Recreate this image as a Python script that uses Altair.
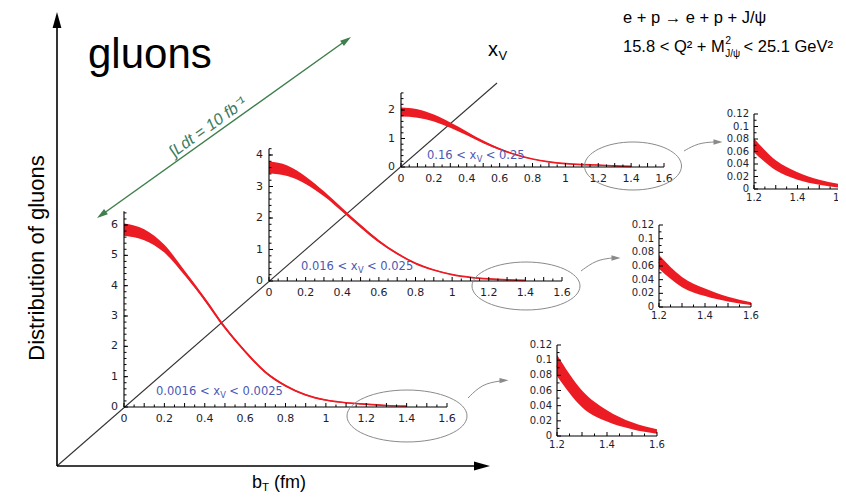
import altair as alt
import pandas as pd

W, H = 830, 485

# ---------------- data ----------------
BT = [0.0, 0.1, 0.2, 0.3, 0.4, 0.5, 0.6, 0.7, 0.8, 0.9, 1.0, 1.1, 1.2, 1.3, 1.4, 1.5, 1.6]

LOW_LO = [5.65, 5.50, 5.09, 4.34, 3.49, 2.57, 1.79, 1.115, 0.67, 0.38, 0.21, 0.125, 0.079, 0.038, 0.019, 0.009, 0.003]
LOW_HI = [6.05, 5.86, 5.35, 4.50, 3.61, 2.67, 1.87, 1.185, 0.73, 0.42, 0.25, 0.155, 0.107, 0.060, 0.034, 0.018, 0.009]
MID_LO = [3.42, 3.33, 3.08, 2.69, 2.20, 1.69, 1.22, 0.84, 0.54, 0.335, 0.195, 0.11, 0.056, 0.029, 0.016, 0.008, 0.003]
MID_HI = [3.79, 3.67, 3.32, 2.85, 2.32, 1.79, 1.30, 0.90, 0.58, 0.365, 0.215, 0.125, 0.076, 0.044, 0.027, 0.015, 0.007]
HIGH_LO = [1.77, 1.73, 1.60, 1.38, 1.11, 0.83, 0.60, 0.41, 0.27, 0.17, 0.11, 0.075, 0.059, 0.030, 0.015, 0.007, 0.002]
HIGH_HI = [2.09, 2.03, 1.84, 1.56, 1.25, 0.93, 0.66, 0.45, 0.29, 0.19, 0.125, 0.09, 0.081, 0.046, 0.027, 0.015, 0.0075]

MAIN_X_LABELS = [0, 0.2, 0.4, 0.6, 0.8, 1.0, 1.2, 1.4, 1.6]
LOW_Y_LABELS = [0, 1, 2, 3, 4, 5, 6]
MID_Y_LABELS = [0, 1, 2, 3, 4]
HIGH_Y_LABELS = [0, 1, 2]
ZOOM_X_LABELS = [1.2, 1.4, 1.6]
ZOOM_Y_LABELS = [0, 0.02, 0.04, 0.06, 0.08, 0.1, 0.12]

RANGE_LABELS = [("0.0016 < x", "V", "< 0.0025"),
                ("0.016 < x", "V", "< 0.025"),
                ("0.16 < x", "V", "< 0.25")]

RED = "#ec1c24"
LABEL_COLOR = "#1e1e30"
BLUE = "#4a58b4"
GRAY = "#8a8a8a"
GREEN = "#3f7f4c"
FONT = "Liberation Sans"
TICKFONT = "DejaVu Sans"

# advance widths (em) for Liberation Sans (Arial metrics)
ADV = {"0": .556, "1": .556, "2": .556, "3": .556, "4": .556, "5": .556, "6": .556,
       "7": .556, "8": .556, "9": .556, ".": .278, " ": .278, "<": .584, "+": .584,
       "x": .5, "V": .667, "Q": .778, "²": .333, "M": .833, "J": .5, "/": .278,
       "ψ": .69, "G": .778, "e": .556, "b": .556, "T": .611}
# advance widths (em) for DejaVu Sans
ADV_DV = {"0": .636, "1": .636, "2": .636, "5": .636, "6": .636, ".": .318, " ": .318,
          "<": .838, "x": .592, "V": .684}


def tw(s, size, adv=ADV):
    return sum(adv.get(ch, .6) for ch in s) * size


def steps(a, b, d):
    n = int(round((b - a) / d))
    return [round(a + i * d, 6) for i in range(n + 1)]


def fmt(v):
    return f"{v:g}"


ONE = pd.DataFrame({"k": [0]})


def panel(lo, hi, xr, yr, xdom, ydom, xlab, ylab, xmaj, xmin_, ymaj, ymin_, fs, bmax, padx, pady):
    rows = [(b, l, h) for b, l, h in zip(BT, lo, hi) if xdom[0] - 1e-9 <= b <= bmax + 1e-9]
    df = pd.DataFrame(rows, columns=["b", "lo", "hi"])
    df["c"] = (df["lo"] + df["hi"]) / 2
    sx = alt.Scale(domain=xdom, range=xr, nice=False, zero=False)
    sy = alt.Scale(domain=ydom, range=yr, nice=False, zero=False)

    def X(f):
        return alt.X(f, scale=sx, axis=None, title=None)

    def Y(f):
        return alt.Y(f, scale=sy, axis=None, title=None)

    def XD(v):
        return alt.XDatum(v, scale=sx, axis=None)

    def YD(v):
        return alt.YDatum(v, scale=sy, axis=None)

    base = alt.Chart(df)
    layers = [
        base.mark_area(color=RED, interpolate="monotone", opacity=1).encode(
            x=X("b:Q"), y=Y("lo:Q"), y2="hi:Q"),
        base.mark_line(color=RED, strokeWidth=1.7, interpolate="monotone").encode(
            x=X("b:Q"), y=Y("c:Q")),
        # axis lines
        alt.Chart(ONE).mark_rule(color="black", strokeWidth=1.1).encode(
            x=XD(xdom[0]), x2=alt.datum(xdom[1]), y=YD(ydom[0])),
        alt.Chart(ONE).mark_rule(color="black", strokeWidth=1.1).encode(
            x=XD(xdom[0]), y=YD(ydom[0]), y2=alt.datum(ydom[1])),
        # tick labels
        alt.Chart(pd.DataFrame({"v": xlab, "s": [fmt(v) for v in xlab]})).mark_text(
            font=TICKFONT, fontSize=fs, color=LABEL_COLOR, baseline="top", dy=padx).encode(
            x=X("v:Q"), y=YD(ydom[0]), text="s:N"),
        alt.Chart(pd.DataFrame({"v": ylab, "s": [fmt(v) for v in ylab]})).mark_text(
            font=TICKFONT, fontSize=fs, color=LABEL_COLOR, align="right", baseline="middle",
            dx=-pady).encode(
            y=Y("v:Q"), x=XD(xdom[0]), text="s:N"),
    ]
    # inward ticks
    for vals, ln in ((xmaj, 4), (xmin_, 2.5)):
        layers.append(alt.Chart(pd.DataFrame({"t": vals})).mark_rule(
            color="black", strokeWidth=1, y2Offset=-ln).encode(
            x=X("t:Q"), y=YD(ydom[0]), y2=alt.datum(ydom[0])))
    for vals, ln in ((ymaj, 4), (ymin_, 2.5)):
        layers.append(alt.Chart(pd.DataFrame({"t": vals})).mark_rule(
            color="black", strokeWidth=1, x2Offset=ln).encode(
            y=Y("t:Q"), x=XD(xdom[0]), x2=alt.datum(xdom[0])))
    return alt.layer(*layers)


def txt(x, y, s, size, color="black", align="left", angle=0, italic=False,
        baseline="middle", font=FONT):
    props = dict(text=s, fontSize=size, color=color, align=align, baseline=baseline,
                 font=font, angle=angle)
    if italic:
        props["fontStyle"] = "italic"
    return alt.Chart(ONE).mark_text(**props).encode(x=alt.value(x), y=alt.value(y))


def seg(x1, y1, x2, y2, color="black", width=1.0):
    return alt.Chart(ONE).mark_rule(color=color, strokeWidth=width).encode(
        x=alt.value(x1), y=alt.value(y1), x2=alt.value(x2), y2=alt.value(y2))


TRI = "M0,-1L0.55,1L-0.55,1Z"
TRI2 = "M0,-1L0.6,1L-0.6,1Z"


def head(x, y, angle, size, color, shape=TRI):
    return alt.Chart(ONE).mark_point(shape=shape, filled=True, size=size, angle=angle,
                                     color=color, opacity=1, strokeWidth=0).encode(
        x=alt.value(x), y=alt.value(y))


def ellipse(cx, cy, rx, ry):
    r = ry / rx
    path = f"M-1,0A1,{r:.3f} 0 1,1 1,0A1,{r:.3f} 0 1,1 -1,0Z"
    return alt.Chart(ONE).mark_point(shape=path, filled=False, size=(2 * rx) ** 2,
                                     color=GRAY, opacity=1, strokeWidth=1).encode(
        x=alt.value(cx), y=alt.value(cy))


def curve(pts, color=GRAY):
    df = pd.DataFrame({"x": [p[0] for p in pts], "y": [p[1] for p in pts], "o": list(range(len(pts)))})
    return alt.Chart(df).mark_line(color=color, strokeWidth=1, interpolate="basis").encode(
        x=alt.X("x:Q", scale=None, axis=None), y=alt.Y("y:Q", scale=None, axis=None), order="o:Q")


def range_label(parts, left, y, f=11.5):
    a, v, c = parts
    xa = left + tw(a, f, ADV_DV)
    return [txt(left, y, a, f, BLUE, font=TICKFONT),
            txt(xa + 0.3, y + 3.5, v, f * 0.72, BLUE, font=TICKFONT),
            txt(xa + 0.684 * f * 0.72 + 0.318 * f, y, c, f, BLUE, font=TICKFONT)]


layers = []
# frame: axes of the 3D sketch
layers.append(seg(49, 458, 489, 75, "#333333", 1.1))
layers.append(seg(49, 458, 49, 14, "black", 1.6))
layers.append(seg(49, 458, 476, 458, "black", 1.6))
layers.append(head(49, 12, 0, 256, "black"))
layers.append(head(474, 458, 90, 256, "black"))
# luminosity arrow
layers.append(seg(92, 208, 340, 31, GREEN, 1.5))
layers.append(head(338.5, 32.2, 54.5, 121, GREEN, TRI2))
layers.append(head(93.5, 206.8, 234.5, 121, GREEN, TRI2))

# panels
maj_main = steps(0, 1.6, 0.1)
min_main = steps(0.05, 1.55, 0.1)
maj_zoom = steps(1.2, 1.6, 0.1)
min_zoom = steps(1.25, 1.55, 0.1)
layers.append(panel(LOW_LO, LOW_HI, [116, 439], [399, 399 - 6.45 * 30.33], [0, 1.6], [0, 6.45],
                    MAIN_X_LABELS, LOW_Y_LABELS, maj_main, min_main,
                    steps(0, 6, 1), steps(0.2, 6.4, 0.2), 11, 1.4, 6, 6))
layers.append(panel(MID_LO, MID_HI, [261, 554], [273, 273 - 4.2 * 31.5], [0, 1.6], [0, 4.2],
                    MAIN_X_LABELS, MID_Y_LABELS, maj_main, min_main,
                    steps(0, 4, 1), steps(0.2, 4.2, 0.2), 11, 1.4, 6, 6))
layers.append(panel(HIGH_LO, HIGH_HI, [393, 656], [159, 159 - 2.6 * 28.5], [0, 1.6], [0, 2.6],
                    MAIN_X_LABELS, HIGH_Y_LABELS, maj_main, min_main,
                    steps(0, 2, 1), steps(0.2, 2.6, 0.2), 11, 1.4, 6, 6))
layers.append(panel(LOW_LO, LOW_HI, [549, 649], [428, 337], [1.2, 1.6], [0, 0.12],
                    ZOOM_X_LABELS, ZOOM_Y_LABELS, maj_zoom, min_zoom,
                    steps(0, 0.12, 0.02), steps(0.01, 0.11, 0.02), 10, 1.6, 4, 5))
layers.append(panel(MID_LO, MID_HI, [651, 743], [299, 217], [1.2, 1.6], [0, 0.12],
                    ZOOM_X_LABELS, ZOOM_Y_LABELS, maj_zoom, min_zoom,
                    steps(0, 0.12, 0.02), steps(0.01, 0.11, 0.02), 10, 1.6, 4, 5))
layers.append(panel(HIGH_LO, HIGH_HI, [746, 833], [181, 106], [1.2, 1.6], [0, 0.12],
                    ZOOM_X_LABELS, ZOOM_Y_LABELS, maj_zoom, min_zoom,
                    steps(0, 0.12, 0.02), steps(0.01, 0.11, 0.02), 10, 1.6, 4, 5))

# ellipses and zoom arrows
layers.append(ellipse(399, 408, 60, 26))
layers.append(ellipse(518, 278, 54, 24))
layers.append(ellipse(625, 158, 48.5, 24))
layers.append(curve([(460, 390), (474, 376), (492, 373)]))
layers.append(curve([(573, 263), (588, 252), (604, 250)]))
layers.append(curve([(676, 143), (690, 135), (706, 134)]))
layers.append(head(496, 372.5, 88, 81, GRAY, TRI2))
layers.append(head(608, 250, 90, 81, GRAY, TRI2))
layers.append(head(710, 134, 90, 81, GRAY, TRI2))

# range labels
layers += range_label(RANGE_LABELS[0], 148, 384)
layers += range_label(RANGE_LABELS[1], 293, 259)
layers += range_label(RANGE_LABELS[2], 419, 148)

# titles and annotations
layers.append(txt(80, 60, "gluons", 42, "black", baseline="alphabetic"))
layers.append(txt(29, 250, "Distribution of gluons", 22, "black", align="center", angle=270))
layers.append(txt(244, 475, "b", 18))
layers.append(txt(244 + tw("b", 18), 480, "T", 11.5))
layers.append(txt(244 + tw("b", 18) + tw("T", 11.5) + tw(" ", 18), 475, "(fm)", 18))
layers.append(txt(480, 42, "x", 20))
layers.append(txt(480 + tw("x", 20) + 0.5, 48, "V", 13))
layers.append(txt(200, 119, "∫Ldt = 10 fb⁻¹", 16, "#3b7a5c", align="center", angle=324.5, italic=True))

F = 16.5
layers.append(txt(615, 10, "e + p → e + p + J/ψ", F))
partA = "15.8 < Q² + M"
xa = 615 + tw(partA, F)
layers.append(txt(615, 39, partA, F))
layers.append(txt(xa + 0.5, 33, "2", 10.5))
layers.append(txt(xa + 0.5, 46, "J/ψ", 10))
layers.append(txt(xa + tw("J/ψ", 10) + 4, 39, "< 25.1 GeV²", F))

chart = alt.layer(*layers).resolve_scale(x="independent", y="independent").properties(
    width=W, height=H, padding=0, autosize=alt.AutoSizeParams(type="none"),
    background="white"
).configure_view(strokeWidth=0)

chart.save("out.html", embed_options={"renderer": "svg", "actions": False})
